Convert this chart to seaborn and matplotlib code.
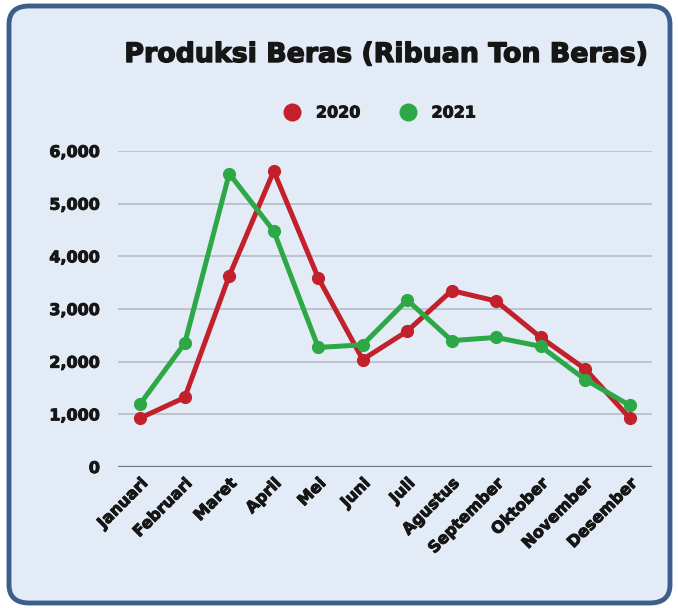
import matplotlib
matplotlib.use("Agg")
import matplotlib.pyplot as plt
import matplotlib.patheffects as pe
import seaborn as sns
import pandas as pd
from matplotlib.patches import FancyBboxPatch
from matplotlib.lines import Line2D

months = ["Januari", "Februari", "Maret", "April", "Mei", "Juni", "Juli",
          "Agustus", "September", "Oktober", "November", "Desember"]
prod_2020 = [930, 1320, 3630, 5620, 3590, 2040, 2580, 3350, 3150, 2460, 1860, 930]
prod_2021 = [1200, 2350, 5570, 4480, 2270, 2320, 3170, 2400, 2460, 2290, 1660, 1170]
years = ["2020", "2021"]
y_ticks = [0, 1000, 2000, 3000, 4000, 5000, 6000]
title = "Produksi Beras (Ribuan Ton Beras)"

df = pd.DataFrame({
    "Bulan": months * 2,
    "Produksi": prod_2020 + prod_2021,
    "Tahun": [years[0]] * len(months) + [years[1]] * len(months),
})

sns.set_theme(style="white")
FONT = ["DejaVu Sans"]
plt.rcParams["font.family"] = FONT

red = "#c2202b"
green = "#2ca846"
palette = {"2020": red, "2021": green}
bg = "#e3ecf6"
txt = "#161616"
thick = [pe.withStroke(linewidth=0.7, foreground=txt)]

fig = plt.figure(figsize=(6.78, 6.08), dpi=100)
fig.patch.set_facecolor("white")
box = FancyBboxPatch((9 / 678, 5 / 608), 661 / 678, 597 / 608,
                     boxstyle="round,pad=0,rounding_size=0.03",
                     transform=fig.transFigure, facecolor=bg,
                     edgecolor="#3d5e8c", linewidth=3.5, zorder=-5)
fig.patches.append(box)

ax = fig.add_axes([118 / 678, 1 - 467 / 608, (652 - 118) / 678, (467 - 151) / 608])
ax.set_facecolor("none")
ax.set_zorder(2)

sns.lineplot(data=df, x="Bulan", y="Produksi", hue="Tahun", palette=palette,
             sort=False, marker="o", markersize=9.5, markeredgewidth=0,
             linewidth=3.6, ax=ax, legend=False, clip_on=False, zorder=3)

ax.set_xlim(-0.5, len(months) - 0.5)
ax.set_ylim(0, 6000)
ax.set_yticks(y_ticks)
ax.set_yticklabels([f"{v:,}" for v in y_ticks], fontsize=11.5, fontweight="bold",
                   color=txt)
ax.set_xticks(range(len(months)))
ax.set_xticklabels(months, rotation=45, ha="right", rotation_mode="anchor",
                   fontsize=11.5, fontweight="bold", color=txt)
for lab in ax.get_xticklabels() + ax.get_yticklabels():
    lab.set_path_effects(thick)
ax.tick_params(axis="y", length=0, pad=13)
ax.tick_params(axis="x", length=0, pad=6)
ax.set_xlabel("")
ax.set_ylabel("")
for s in ax.spines.values():
    s.set_visible(False)
for v in y_ticks[1:]:
    ax.axhline(v, color="#b4bcc8", linewidth=1.2, zorder=1)
ax.axhline(0, color="#6f7784", linewidth=1.6, zorder=1)

fig.text(386 / 678, 1 - 55 / 608, title, ha="center", va="center",
         fontsize=19.3, fontweight="bold", color=txt,
         path_effects=[pe.withStroke(linewidth=1.0, foreground=txt)])

handles = [Line2D([0], [0], marker="o", linestyle="", markersize=13,
                  markerfacecolor=palette[y], markeredgewidth=0) for y in years]
leg = fig.legend(handles, years, loc="center", bbox_to_anchor=(376 / 678, 1 - 113 / 608),
                 ncol=2, frameon=False, handletextpad=0.5, columnspacing=1.95,
                 prop={"family": FONT, "weight": "bold", "size": 11.5})
for t in leg.get_texts():
    t.set_color(txt)
    t.set_path_effects(thick)

fig.savefig("out.png", dpi=100, facecolor=fig.get_facecolor())
